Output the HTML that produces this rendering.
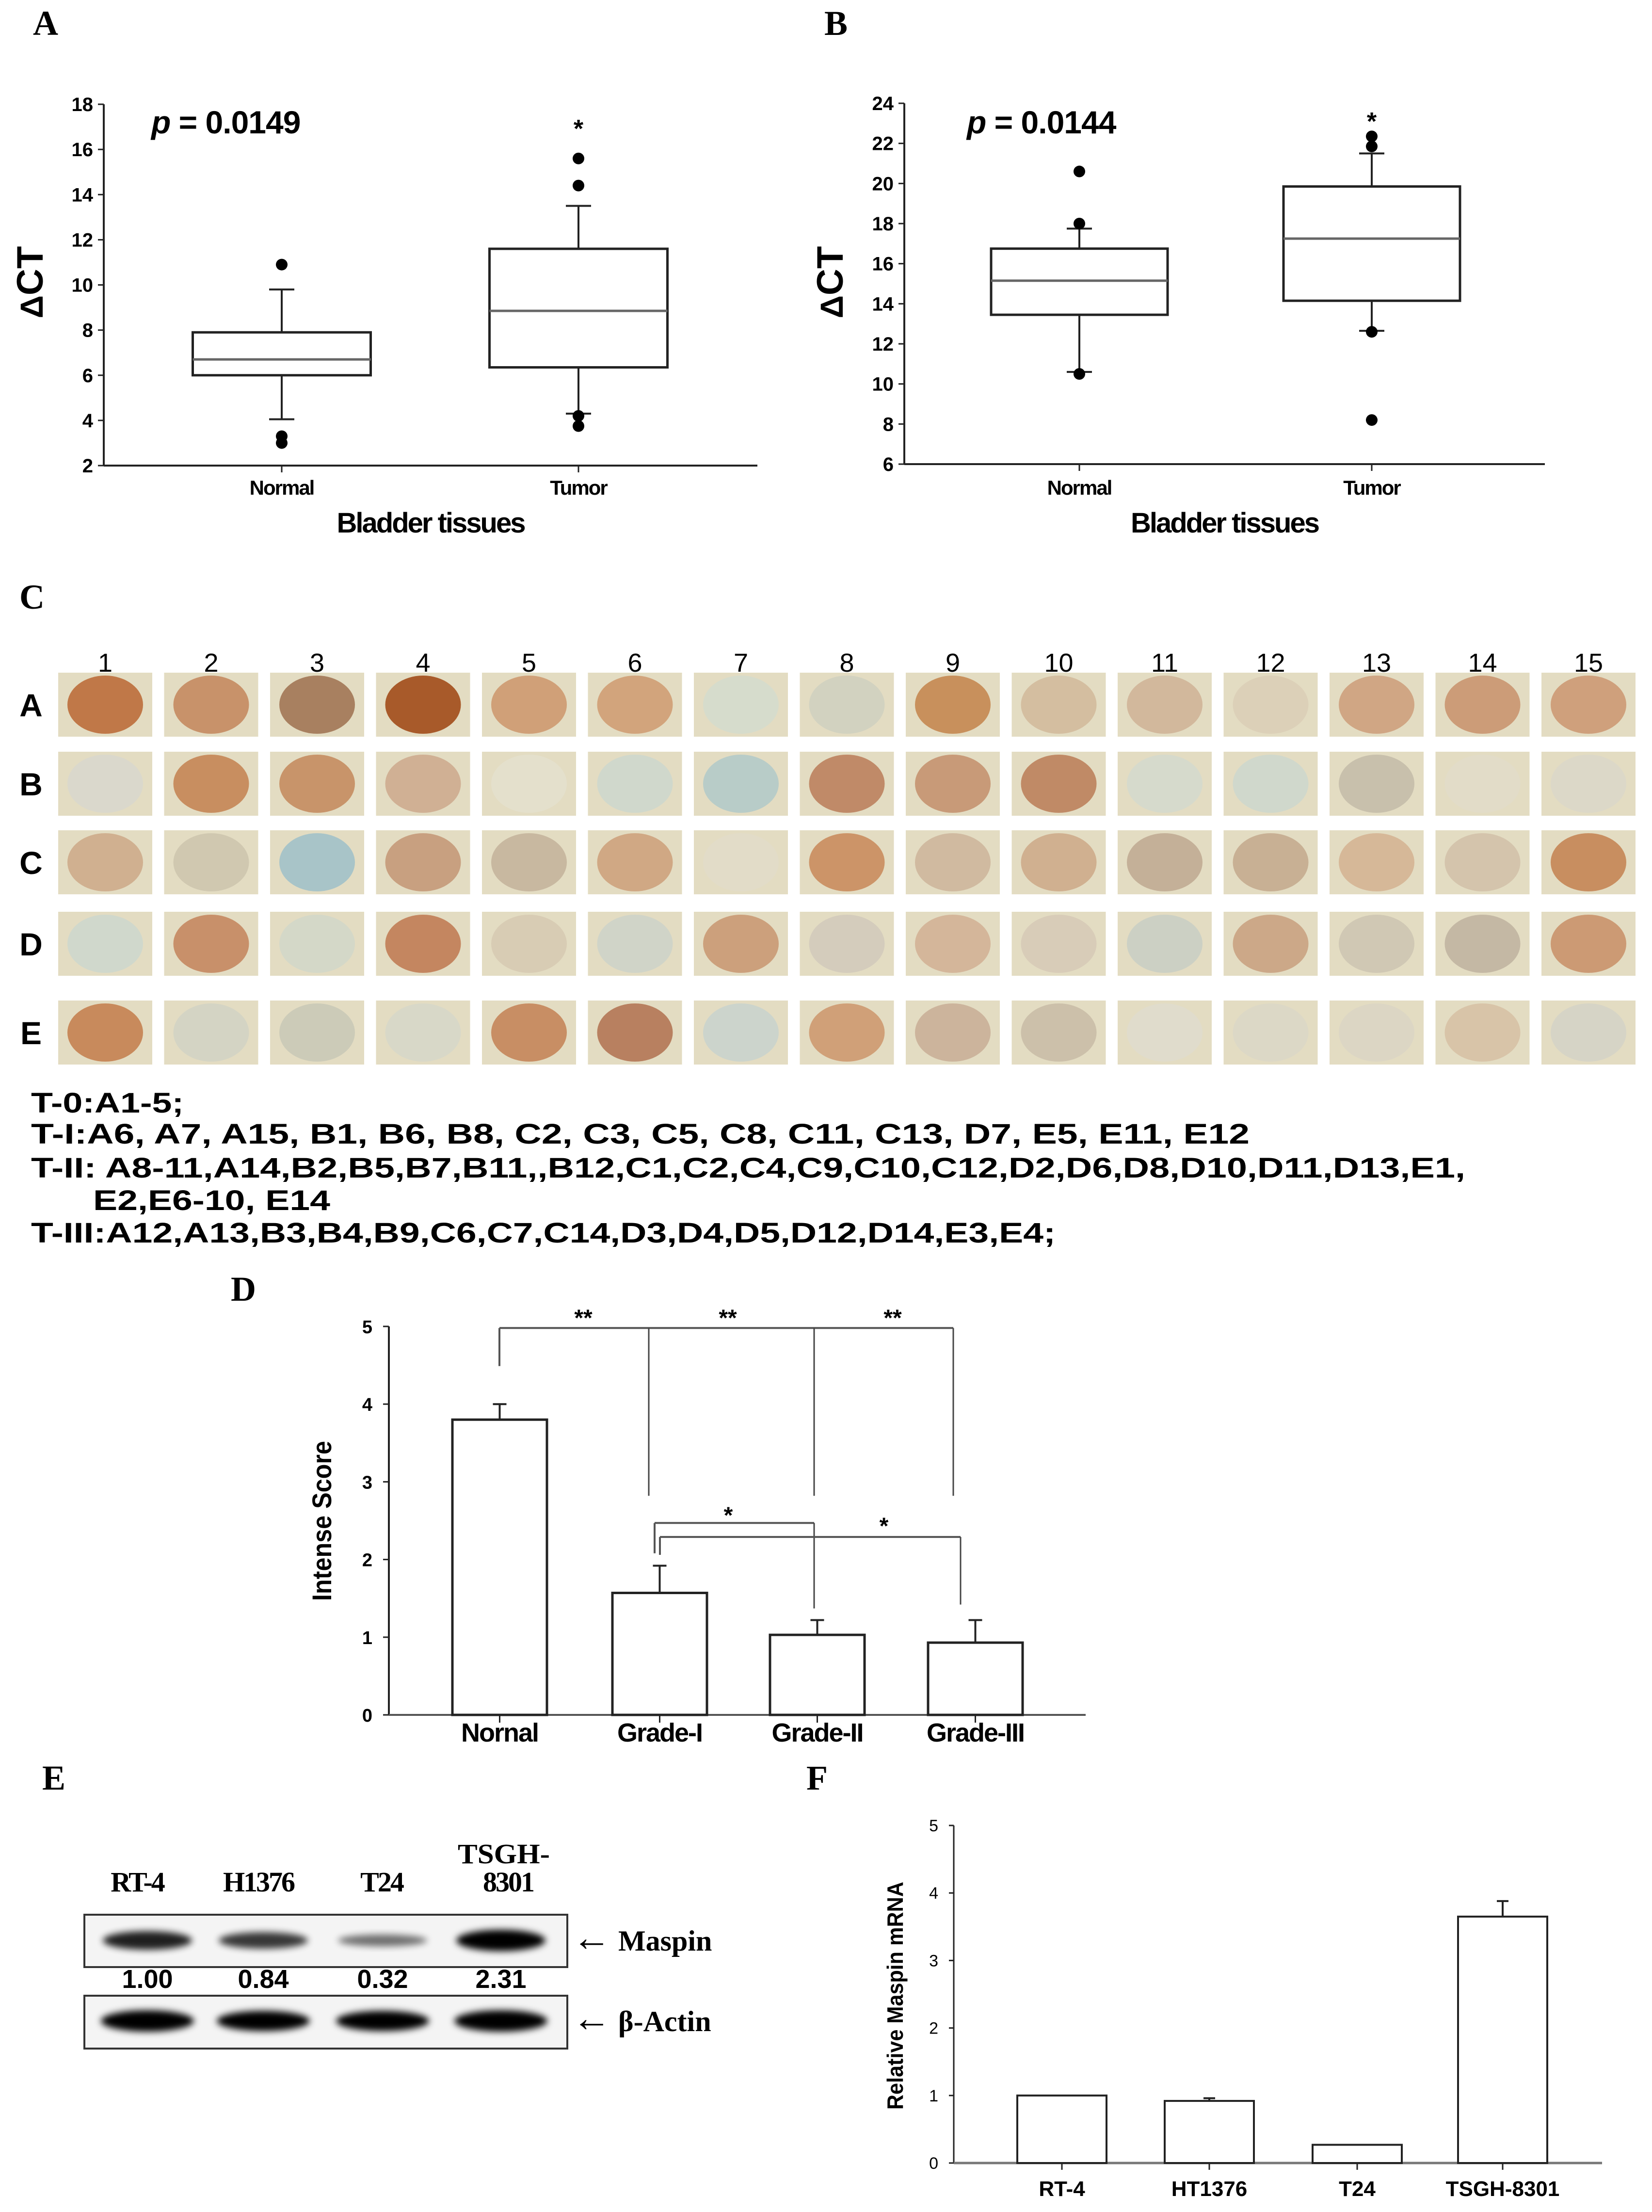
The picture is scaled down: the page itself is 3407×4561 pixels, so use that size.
<!DOCTYPE html>
<html><head><meta charset="utf-8"><style>
html,body{margin:0;padding:0;background:#fff}
svg{display:block}
</style></head><body>
<svg id="fig" xmlns="http://www.w3.org/2000/svg" width="3407" height="4561" viewBox="0 0 3407 4561" font-family="Liberation Sans, sans-serif">
<rect x="0" y="0" width="3407" height="4561" fill="#fff"/>
<g font-family="Liberation Serif, serif" font-weight="bold" font-size="72">
<text x="68" y="72">A</text>
<text x="1700" y="72">B</text>
<text x="40" y="1255">C</text>
<text x="476" y="2682">D</text>
<text x="87" y="3690">E</text>
<text x="1663" y="3690">F</text>
</g>
<g font-weight="bold" font-size="58" font-family="Liberation Sans, sans-serif">
<text x="64" y="2294" textLength="315" lengthAdjust="spacingAndGlyphs">T-0:A1-5;</text>
<text x="64" y="2358" textLength="2513" lengthAdjust="spacingAndGlyphs">T-I:A6, A7, A15, B1, B6, B8, C2, C3, C5, C8, C11, C13,  D7, E5, E11, E12</text>
<text x="64" y="2428" textLength="2958" lengthAdjust="spacingAndGlyphs">T-II:  A8-11,A14,B2,B5,B7,B11,,B12,C1,C2,C4,C9,C10,C12,D2,D6,D8,D10,D11,D13,E1,</text>
<text x="192" y="2495" textLength="489" lengthAdjust="spacingAndGlyphs">E2,E6-10, E14</text>
<text x="64" y="2562" textLength="2113" lengthAdjust="spacingAndGlyphs">T-III:A12,A13,B3,B4,B9,C6,C7,C14,D3,D4,D5,D12,D14,E3,E4;</text>
</g>
<g id="gA"></g>
<g id="gB"></g>
<g id="gC"></g>
<g id="gD"></g>
<g id="gE"></g>
<g id="gF"></g>
</svg>
<script>
// ---- Panel A data
const boxCats = ["Normal", "Tumor"];
const aWhiskLo = [4.05, 4.3];
const aQ1 = [6.0, 6.35];
const aMed = [6.7, 8.85];
const aQ3 = [7.9, 11.6];
const aWhiskHi = [9.8, 13.5];
const aOutliers = [[10.9, 3.3, 3.0], [15.6, 14.4, 4.2, 3.75]];
const aTicks = [2, 4, 6, 8, 10, 12, 14, 16, 18];
// ---- Panel B data
const bWhiskLo = [10.6, 12.65];
const bQ1 = [13.45, 14.15];
const bMed = [15.15, 17.25];
const bQ3 = [16.75, 19.85];
const bWhiskHi = [17.75, 21.5];
const bOutliers = [[20.6, 18.0, 10.5], [22.35, 21.85, 12.6, 8.2]];
const bTicks = [6, 8, 10, 12, 14, 16, 18, 20, 22, 24];
// ---- Panel C data
const tmaRows = ["A", "B", "C", "D", "E"];
const tmaCols = ["1","2","3","4","5","6","7","8","9","10","11","12","13","14","15"];
const tmaColors = [
 ["#c07848","#c8926a","#a88060","#a85a2a","#d0a078","#d2a47c","#d6dccc","#d2d2c0","#c8905c","#d4bea0","#d2b89c","#dcd0b8","#d0a684","#cc9c78","#cfa07c"],
 ["#dad8cc","#c88e60","#c8946a","#d0b094","#e4e0cc","#d0d8cc","#b8ccc8","#c08a68","#c89a78","#c08a66","#d6dacc","#d0d8cc","#c8c0ac","#e2dcc8","#dcd8c8"],
 ["#d0b090","#d0c8b0","#a8c4c8","#c8a080","#c8b8a0","#d0a884","#e2dcc8","#cc9468","#d0baa0","#d0b090","#c4b098","#c8b094","#d6b898","#d4c4ac","#c88e60"],
 ["#d0d8cc","#c8906a","#d4d8c8","#c48660","#d8ccb4","#d0d4c8","#cca07c","#d4ccbc","#d4b69a","#d8ccb8","#ccd0c4","#cca888","#d0c8b4","#c4b8a4","#cc9a74"],
 ["#c88a5c","#d4d4c4","#cccbb8","#d8d8c8","#c88e64","#b88060","#ccd4cc","#d0a078","#ccb49c","#ccc0aa","#e0dccc","#dcd8c6","#dcd6c4","#d8c4a8","#d6d4c6"]
];
// ---- Panel D data
const dCats = ["Nornal", "Grade-I", "Grade-II", "Grade-III"];
const dVals = [3.8, 1.57, 1.03, 0.93];
const dErr = [0.2, 0.35, 0.19, 0.29];
const dTicks = [0, 1, 2, 3, 4, 5];
// ---- Panel E data
const eLanes = ["RT-4", "H1376", "T24", "8301"];
const eRatios = ["1.00", "0.84", "0.32", "2.31"];
const eMaspin = [0.8, 0.65, 0.3, 1.0];
const eActin = [1.0, 0.95, 0.95, 1.0];
// ---- Panel F data
const fCats = ["RT-4", "HT1376", "T24", "TSGH-8301"];
const fVals = [1.0, 0.92, 0.27, 3.65];
const fErr = [0.0, 0.04, 0.0, 0.23];
const fTicks = [0, 1, 2, 3, 4, 5];

const NS = "http://www.w3.org/2000/svg";
function add(parent, tag, attrs, name, text) {
  const el = document.createElementNS(NS, tag);
  for (const k in attrs) el.setAttribute(k, attrs[k]);
  
  
  if (text !== undefined) el.textContent = text;
  parent.appendChild(el);
  return el;
}
function ln(p, x1, y1, x2, y2, name, sw, col) {
  return add(p, "line", {x1:x1, y1:y1, x2:x2, y2:y2, stroke: col || "#222", "stroke-width": sw || 4}, name);
}

// ---------- Box plots
function boxPanel(g, cfg) {
  const y = v => cfg.yBot - (v - cfg.vMin) / (cfg.vMax - cfg.vMin) * (cfg.yBot - cfg.yTop);
  ln(g, cfg.ax, cfg.yTop, cfg.ax, cfg.yBot, "y-axis", 4);
  ln(g, cfg.ax, cfg.yBot, cfg.xEnd, cfg.yBot, "x-axis", 4);
  cfg.ticks.forEach(t => {
    ln(g, cfg.ax - 12, y(t), cfg.ax, y(t), "y-tick", 3);
    add(g, "text", {x: cfg.ax - 22, y: y(t) + 14, "text-anchor": "end", "font-size": 40, "font-weight": "bold"}, "y-tick-label", String(t));
  });
  boxCats.forEach((c, i) => {
    const cx = cfg.cx[i], w = cfg.bw;
    ln(g, cx, cfg.yBot, cx, cfg.yBot + 14, "x-tick", 3);
    add(g, "text", {x: cx, y: 1020, "text-anchor": "middle", "font-size": 42, "font-weight": "bold", "letter-spacing": -2}, "x-tick-label", c);
    ln(g, cx, y(cfg.wlo[i]), cx, y(cfg.q1[i]), "whisker-low", 4);
    ln(g, cx, y(cfg.q3[i]), cx, y(cfg.whi[i]), "whisker-high", 4);
    ln(g, cx - 26, y(cfg.wlo[i]), cx + 26, y(cfg.wlo[i]), "whisker-cap-low", 4);
    ln(g, cx - 26, y(cfg.whi[i]), cx + 26, y(cfg.whi[i]), "whisker-cap-high", 4);
    add(g, "rect", {x: cx - w/2, y: y(cfg.q3[i]), width: w, height: y(cfg.q1[i]) - y(cfg.q3[i]), fill: "#fff", stroke: "#222", "stroke-width": 5}, "box-" + c.toLowerCase());
    ln(g, cx - w/2, y(cfg.med[i]), cx + w/2, y(cfg.med[i]), "median-" + c.toLowerCase(), 5, "#666");
    cfg.out[i].forEach(v => add(g, "circle", {cx: cx, cy: y(v), r: 12, fill: "#000"}, "outlier"));
  });
  add(g, "text", {x: cfg.cx[1], y: y(cfg.star) + 26, "text-anchor": "middle", "font-size": 52, "font-weight": "bold"}, "significance-star", "*");
  const pt = add(g, "text", {x: cfg.px, y: 275, "font-size": 66, "font-weight": "bold", "letter-spacing": -1}, "p-value-label", "");
  add(pt, "tspan", {"font-style": "italic"}, "p-symbol", "p");
  add(pt, "tspan", {}, "p-value", cfg.ptext);
  add(g, "text", {x: (cfg.ax + cfg.xEnd)/2, y: 1098, "text-anchor": "middle", "font-size": 58, "font-weight": "bold", "letter-spacing": -3}, "x-axis-title", "Bladder tissues");
  const yt = add(g, "text", {x: 0, y: 0, "text-anchor": "middle", "font-size": 66, "font-weight": "bold", transform: "translate(" + (cfg.ylx) + ",582) rotate(-90)"}, "y-axis-title", "");
  add(yt, "tspan", {}, "delta", "\u0394");
  add(yt, "tspan", {"font-size": 76}, "ct", "CT");
}
boxPanel(document.getElementById("gA"), {vMin:2, vMax:18, yTop:215, yBot:960, ax:214, xEnd:1562, cx:[581,1193], bw:367,
  wlo:aWhiskLo, q1:aQ1, med:aMed, q3:aQ3, whi:aWhiskHi, out:aOutliers, ticks:aTicks, star:17.1, px:312, ptext:" = 0.0149", ylx:88});
boxPanel(document.getElementById("gB"), {vMin:6, vMax:24, yTop:213, yBot:957, ax:1865, xEnd:3186, cx:[2226,2829], bw:364,
  wlo:bWhiskLo, q1:bQ1, med:bMed, q3:bQ3, whi:bWhiskHi, out:bOutliers, ticks:bTicks, star:23.3, px:1994, ptext:" = 0.0144", ylx:1738});

// ---------- TMA grid
(function(){
  const g = document.getElementById("gC");
  const rowY = [1387, 1550, 1712, 1880, 2063];
  const colX0 = 120, step = 218.5, tw = 194, th = 132;
  tmaCols.forEach((c, j) => {
    add(g, "text", {x: colX0 + j*step + tw/2, y: 1385, "text-anchor": "middle", "font-size": 54}, "column-number", c);
  });
  tmaRows.forEach((r, i) => {
    add(g, "text", {x: 64, y: rowY[i] + th/2 + 24, "text-anchor": "middle", "font-size": 66, "font-weight": "bold"}, "row-label", r);
    tmaCols.forEach((c, j) => {
      const x = colX0 + j*step;
      add(g, "rect", {x: x, y: rowY[i], width: tw, height: th, fill: "#e3dcc2"}, "tma-core-" + r + c);
      add(g, "ellipse", {cx: x + tw/2, cy: rowY[i] + th/2, rx: 78, ry: 60, fill: tmaColors[i][j]}, "tma-tissue-" + r + c);
    });
  });
})();

// ---------- Panel D
(function(){
  const g = document.getElementById("gD");
  const yT = 2735, yB = 3536, ax = 802, xEnd = 2239;
  const y = v => yB - v / 5 * (yB - yT);
  const bx = [933, 1263, 1588, 1914], bw = 195;
  ln(g, ax, yT, ax, yB, "y-axis", 4);
  ln(g, ax, yB, xEnd, yB, "x-axis", 4, "#555");
  dTicks.forEach(t => {
    ln(g, ax - 12, y(t), ax, y(t), "y-tick", 3);
    add(g, "text", {x: 768, y: y(t) + 14, "text-anchor": "end", "font-size": 38, "font-weight": "bold"}, "y-tick-label", String(t));
  });
  dCats.forEach((c, i) => {
    const x = bx[i];
    add(g, "rect", {x: x, y: y(dVals[i]), width: bw, height: yB - y(dVals[i]), fill: "#fff", stroke: "#222", "stroke-width": 5}, "bar-" + c.toLowerCase());
    ln(g, x + bw/2, y(dVals[i]), x + bw/2, y(dVals[i] + dErr[i]), "error-bar", 4);
    ln(g, x + bw/2 - 14, y(dVals[i] + dErr[i]), x + bw/2 + 14, y(dVals[i] + dErr[i]), "error-cap", 4);
    ln(g, x + bw/2, yB, x + bw/2, yB + 16, "x-tick", 3);
    add(g, "text", {x: x + bw/2, y: 3591, "text-anchor": "middle", "font-size": 54, "font-weight": "bold", "letter-spacing": -2}, "x-tick-label", c);
  });
  ln(g, 1030, y(4.98), 1966, y(4.98), "bracket-top", 4, "#555");
  ln(g, 1030, y(4.98), 1030, y(4.49), "bracket-normal-leg", 4, "#555");
  [1338, 1679, 1966].forEach(x => ln(g, x, y(4.98), x, y(2.82), "bracket-leg", 3, "#444"));
  [1203, 1501, 1841].forEach(x => add(g, "text", {x: x, y: y(5.16) + 24, "text-anchor": "middle", "font-size": 48, "font-weight": "bold"}, "significance-double-star", "**"));
  ln(g, 1350, y(2.47), 1679, y(2.47), "bracket-grade1-grade2", 4, "#555");
  ln(g, 1350, y(2.47), 1350, y(2.08), "bracket-leg", 4, "#555");
  ln(g, 1679, y(2.47), 1679, y(1.37), "bracket-leg", 3, "#444");
  ln(g, 1361, y(2.29), 1981, y(2.29), "bracket-grade1-grade3", 4, "#555");
  ln(g, 1361, y(2.29), 1361, y(2.06), "bracket-leg", 4, "#555");
  ln(g, 1981, y(2.29), 1981, y(1.42), "bracket-leg", 3, "#444");
  add(g, "text", {x: 1502, y: y(2.62) + 24, "text-anchor": "middle", "font-size": 48, "font-weight": "bold"}, "significance-star", "*");
  add(g, "text", {x: 1823, y: y(2.48) + 24, "text-anchor": "middle", "font-size": 48, "font-weight": "bold"}, "significance-star", "*");
  add(g, "text", {x: 0, y: 0, "text-anchor": "middle", "font-size": 56, "font-weight": "bold", textLength: 330, lengthAdjust: "spacingAndGlyphs", transform: "translate(683,3136) rotate(-90)"}, "y-axis-title", "Intense Score");
})();

// ---------- Panel E (western blot)
(function(){
  const g = document.getElementById("gE");
  const defs = add(g, "defs", {}, "blot-defs");
  const f = add(defs, "filter", {id: "blur", x: "-20%", y: "-50%", width: "140%", height: "200%"}, "band-blur");
  add(f, "feGaussianBlur", {stdDeviation: "7"}, "blur-op");
  const cx = [304, 543, 789, 1033];
  const labelX = [283, 533, 787, 1048];
  add(g, "text", {x: 1039, y: 3842, "text-anchor": "middle", "font-size": 58, "font-weight": "bold", "font-family": "Liberation Serif, serif", textLength: 190, lengthAdjust: "spacingAndGlyphs"}, "lane-label-tsgh", "TSGH-");
  eLanes.forEach((l, i) => {
    add(g, "text", {x: labelX[i], y: 3900, "text-anchor": "middle", "font-size": 58, "font-weight": "bold", "font-family": "Liberation Serif, serif", "letter-spacing": -3}, "lane-label", l);
  });
  add(g, "rect", {x: 174, y: 3948, width: 996, height: 108, fill: "#f4f4f4", stroke: "#333", "stroke-width": 4}, "maspin-membrane");
  add(g, "rect", {x: 174, y: 4115, width: 996, height: 109, fill: "#f4f4f4", stroke: "#333", "stroke-width": 4}, "actin-membrane");
  eMaspin.forEach((v, i) => {
    add(g, "ellipse", {cx: cx[i], cy: 4001, rx: 92, ry: 8 + 14 * v, fill: "#000", opacity: 0.35 + 0.65 * v, filter: "url(#blur)"}, "maspin-band");
  });
  eActin.forEach((v, i) => {
    add(g, "ellipse", {cx: cx[i], cy: 4167, rx: 96, ry: 22 * v, fill: "#000", filter: "url(#blur)"}, "actin-band");
  });
  eRatios.forEach((r, i) => {
    add(g, "text", {x: cx[i], y: 4099, "text-anchor": "middle", "font-size": 54, "font-weight": "bold"}, "band-ratio", r);
  });
  const m = add(g, "text", {x: 1180, y: 4022, "font-size": 60, "font-weight": "bold", "font-family": "Liberation Serif, serif"}, "maspin-label", "");
  add(m, "tspan", {"font-size": 80}, "arrow", "\u2190");
  add(m, "tspan", {}, "maspin-text", " Maspin");
  const a = add(g, "text", {x: 1180, y: 4188, "font-size": 60, "font-weight": "bold", "font-family": "Liberation Serif, serif"}, "actin-label", "");
  add(a, "tspan", {"font-size": 80}, "arrow", "\u2190");
  add(a, "tspan", {}, "actin-text", " \u03b2-Actin");
})();

// ---------- Panel F
(function(){
  const g = document.getElementById("gF");
  const yT = 3764, yB = 4460, ax = 1967, xEnd = 3304;
  const y = v => yB - v / 5 * (yB - yT);
  const bx = [2098, 2402, 2707, 3007], bw = 184;
  ln(g, ax, yT, ax, yB, "y-axis", 3);
  ln(g, ax, yB, xEnd, yB, "x-axis", 5, "#777");
  fTicks.forEach(t => {
    ln(g, ax - 10, y(t), ax, y(t), "y-tick", 3);
    add(g, "text", {x: 1935, y: y(t) + 12, "text-anchor": "end", "font-size": 34}, "y-tick-label", String(t));
  });
  fCats.forEach((c, i) => {
    const x = bx[i];
    add(g, "rect", {x: x, y: y(fVals[i]), width: bw, height: yB - y(fVals[i]), fill: "#fff", stroke: "#222", "stroke-width": 4}, "bar-" + c.toLowerCase());
    if (fErr[i] > 0) {
      ln(g, x + bw/2, y(fVals[i]), x + bw/2, y(fVals[i] + fErr[i]), "error-bar", 4);
      ln(g, x + bw/2 - 12, y(fVals[i] + fErr[i]), x + bw/2 + 12, y(fVals[i] + fErr[i]), "error-cap", 4);
    }
    ln(g, x + bw/2, yB, x + bw/2, yB + 14, "x-tick", 3);
    add(g, "text", {x: x + bw/2, y: 4528, "text-anchor": "middle", "font-size": 44, "font-weight": "bold"}, "x-tick-label", c);
  });
  add(g, "text", {x: 0, y: 0, "text-anchor": "middle", "font-size": 46, "font-weight": "bold", textLength: 470, lengthAdjust: "spacingAndGlyphs", transform: "translate(1862,4115) rotate(-90)"}, "y-axis-title", "Relative Maspin mRNA");
})();
</script>
</body></html>
